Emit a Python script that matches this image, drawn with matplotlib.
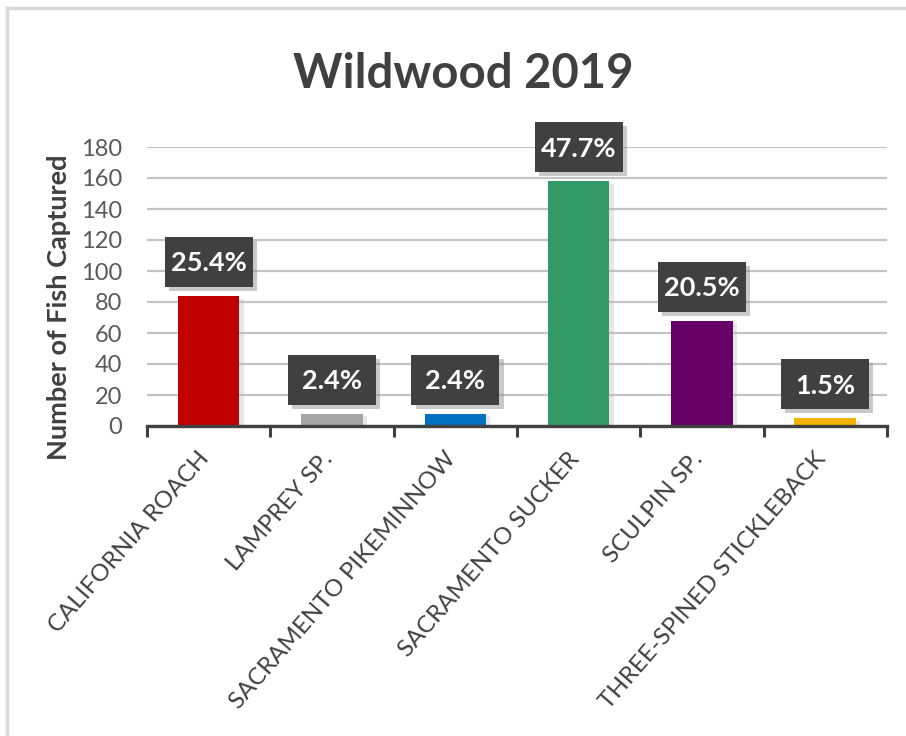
import matplotlib
matplotlib.use("Agg")
import matplotlib.pyplot as plt
import matplotlib.patheffects as pe
import matplotlib.transforms as mtransforms
from matplotlib.patches import Rectangle
import numpy as np

plt.rcParams['font.family'] = ['Lato', 'DejaVu Sans']

species = ["CALIFORNIA ROACH", "LAMPREY SP.", "SACRAMENTO PIKEMINNOW",
           "SACRAMENTO SUCKER", "SCULPIN SP.", "THREE-SPINED STICKLEBACK"]
counts = [84, 8, 8, 158, 68, 5]
percent_labels = ["25.4%", "2.4%", "2.4%", "47.7%", "20.5%", "1.5%"]
bar_colors = ["#C00000", "#A5A5A5", "#0070C0", "#339966", "#660066", "#F2B400"]
y_ticks = [0, 20, 40, 60, 80, 100, 120, 140, 160, 180]

W, H = 906, 736
fig = plt.figure(figsize=(W / 100, H / 100), dpi=100)
fig.patch.set_facecolor("white")

# light frame around the chart area
frame_col = "#D9D9D9"
fig.add_artist(plt.Line2D([7 / W, 1], [1 - 8 / H, 1 - 8 / H], color=frame_col, lw=2.5,
                          transform=fig.transFigure))
fig.add_artist(plt.Line2D([7 / W, 7 / W], [0, 1 - 8 / H], color=frame_col, lw=2.5,
                          transform=fig.transFigure))

ax = fig.add_axes([147 / W, (H - 426) / H, 740 / W, 279 / H])
x = np.arange(len(species))

bars = ax.bar(x, counts, width=0.5, color=bar_colors, zorder=3)
for b in bars:
    b.set_path_effects([pe.SimplePatchShadow(offset=(3, -2), shadow_rgbFace="#bbbbbb", alpha=0.35),
                        pe.Normal()])

ax.set_xlim(-0.5, len(species) - 0.5)
ax.set_ylim(0, 180)
ax.set_yticks(y_ticks)
ax.set_yticklabels([str(v) for v in y_ticks], fontsize=17, color="#595959")

# horizontal gridlines
ax.yaxis.grid(True, color="#C4C4C4", lw=1.6, zorder=0)
ax.set_axisbelow(True)

for s in ["top", "right", "left"]:
    ax.spines[s].set_visible(False)
ax.spines["bottom"].set_color("#404040")
ax.spines["bottom"].set_linewidth(2.4)
ax.spines["bottom"].set_zorder(4)

ax.tick_params(axis="y", length=0, pad=18)
ax.set_xticks(x)
ax.set_xticklabels(species, rotation=49, ha="right", va="top", rotation_mode="anchor",
                   fontsize=17.3, color="#404040")
ax.tick_params(axis="x", which="major", length=0, pad=16)
shift = mtransforms.ScaledTranslation(-0.11, 0, fig.dpi_scale_trans)
for lbl in ax.get_xticklabels():
    lbl.set_transform(lbl.get_transform() + shift)
ax.set_xticks(np.arange(-0.5, len(species), 1.0), minor=True)
ax.tick_params(axis="x", which="minor", length=8, width=2.2, color="#404040", direction="out")

ax.set_ylabel("Number of Fish Captured", fontsize=19.5, fontweight="bold", color="#404040")
ax.yaxis.set_label_coords(-0.1027, 0.427)

# percentage labels in dark boxes above each bar (box size in inches)
box_w, box_h, box_gap = 0.88, 0.50, 0.09
for xi, c, lab in zip(x, counts, percent_labels):
    trans = fig.dpi_scale_trans + mtransforms.ScaledTranslation(xi, c, ax.transData)
    rect = Rectangle((-box_w / 2, box_gap), box_w, box_h, transform=trans,
                     facecolor="#404040", edgecolor="none", zorder=6, clip_on=False)
    rect.set_path_effects([pe.SimplePatchShadow(offset=(3, -3), shadow_rgbFace="#888888", alpha=0.45),
                           pe.Normal()])
    ax.add_patch(rect)
    ax.text(0, box_gap + box_h / 2 - 0.095, lab, transform=trans, ha="center", va="baseline",
            fontsize=19.5, fontweight="bold", color="white", zorder=7)

fig.text(463 / W, 1 - 74 / H, "Wildwood 2019", ha="center", va="center",
         fontsize=34, fontweight="bold", color="#404040")

fig.savefig("out.png", dpi=100, facecolor="white")
